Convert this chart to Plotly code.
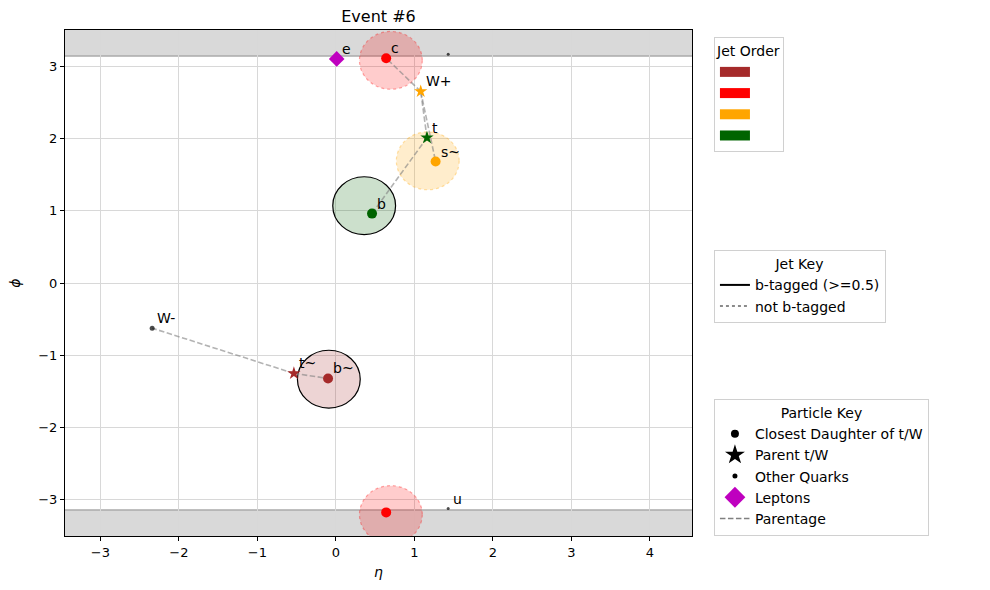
import math
import plotly.graph_objects as go

# ---------------- data ----------------
R_JET = 0.4
jet_eta = [-0.09, 0.70, 1.17, 0.36]
jet_phi = [-1.33, 3.08, 1.69, 1.07]
jet_color = ["#a52a2a", "#ff0000", "#ffa500", "#006400"]
jet_rgb = [(165, 42, 42), (255, 0, 0), (255, 165, 0), (0, 100, 0)]
jet_btag = [0.9, 0.1, 0.1, 0.8]

# closest daughters (dots)
dau_name = ["b~", "c", "s~", "b"]
dau_eta = [-0.10, 0.64, 1.27, 0.46]
dau_phi = [-1.32, 3.11, 1.68, 0.96]
dau_color = ["#a52a2a", "#ff0000", "#ffa500", "#006400"]

# parents (stars)
par_name = ["t~", "W+", "t"]
par_eta = [-0.535, 1.08, 1.16]
par_phi = [-1.25, 2.65, 2.01]
par_color = ["#a52a2a", "#ffa500", "#006400"]

# other quarks / bosons (small dots)
oth_name = ["W-", "u"]
oth_eta = [-2.34, 1.43]
oth_phi = [-0.625, -3.12]
oth_size = [5, 3]

# leptons
lep_name = ["e"]
lep_eta = [0.01]
lep_phi = [3.10]

# parentage links (parent, child)
links = [("t", "W+"), ("t", "b"), ("W+", "c"), ("W+", "s~"), ("t~", "W-"), ("t~", "b~")]

X_RANGE = [-3.45, 4.535]
Y_RANGE = [-3.5, 3.5]
PI = math.pi

FONT = "DejaVu Sans"
DASH = "5.5px,2.5px"

fig = go.Figure()

# ---------------- bands beyond +-pi ----------------
shapes = []
for y0, y1, yl in [(PI, Y_RANGE[1], PI), (Y_RANGE[0], -PI, -PI)]:
    shapes.append(dict(type="rect", xref="paper", yref="y", x0=0, x1=1, y0=y0, y1=y1,
                       fillcolor="#d9d9d9", line=dict(width=0), layer="below"))
    shapes.append(dict(type="line", xref="paper", yref="y", x0=0, x1=1, y0=yl, y1=yl,
                       line=dict(color="#aaaaaa", width=1.5), layer="below"))

# ---------------- jets ----------------
def jet_shape(eta, phi, rgb, btag):
    fill = "rgba(%d,%d,%d,0.2)" % rgb
    if btag >= 0.5:
        line = dict(color="black", width=1.2)
    else:
        line = dict(color="rgba(%d,%d,%d,0.35)" % rgb, width=1.2, dash="dot")
    return dict(type="circle", xref="x", yref="y", x0=eta - R_JET, x1=eta + R_JET,
                y0=phi - R_JET, y1=phi + R_JET, fillcolor=fill, line=line, layer="between")

for eta, phi, rgb, bt in zip(jet_eta, jet_phi, jet_rgb, jet_btag):
    shapes.append(jet_shape(eta, phi, rgb, bt))
    if phi + R_JET > PI:
        shapes.append(jet_shape(eta, phi - 2 * PI, rgb, bt))
    elif phi - R_JET < -PI:
        shapes.append(jet_shape(eta, phi + 2 * PI, rgb, bt))


def wrap_copy(phi):
    if phi > PI - R_JET:
        return phi - 2 * PI
    if phi < -PI + R_JET:
        return phi + 2 * PI
    return None

# ---------------- parentage lines ----------------
pos = {}
for n, e, p in zip(dau_name, dau_eta, dau_phi):
    pos[n] = (e, p)
for n, e, p in zip(par_name, par_eta, par_phi):
    pos[n] = (e, p)
for n, e, p in zip(oth_name, oth_eta, oth_phi):
    pos[n] = (e, p)

lx, ly = [], []
for a, b in links:
    lx += [pos[a][0], pos[b][0], None]
    ly += [pos[a][1], pos[b][1], None]
fig.add_trace(go.Scatter(x=lx, y=ly, mode="lines", showlegend=False, hoverinfo="skip",
                         line=dict(color="rgba(128,128,128,0.6)", dash=DASH, width=1.6)))

# ---------------- particles ----------------
dx, dy, dc = list(dau_eta), list(dau_phi), list(dau_color)
for e, p, c in zip(dau_eta, dau_phi, dau_color):
    w = wrap_copy(p)
    if w is not None:
        dx.append(e); dy.append(w); dc.append(c)
fig.add_trace(go.Scatter(x=dx, y=dy, mode="markers", showlegend=False,
                         marker=dict(symbol="circle", size=10, color=dc, line=dict(width=0))))

fig.add_trace(go.Scatter(x=par_eta, y=par_phi, mode="markers", showlegend=False,
                         marker=dict(symbol="star", size=10, color=par_color, line=dict(width=0))))

ox, oy, osz = list(oth_eta), list(oth_phi), list(oth_size)
for e, p, s in zip(oth_eta, oth_phi, oth_size):
    w = wrap_copy(p)
    if w is not None:
        ox.append(e); oy.append(w); osz.append(s)
fig.add_trace(go.Scatter(x=ox, y=oy, mode="markers", showlegend=False,
                         marker=dict(symbol="circle", size=osz, color="black", line=dict(width=0))))

fig.add_trace(go.Scatter(x=lep_eta, y=lep_phi, mode="markers", showlegend=False,
                         marker=dict(symbol="diamond", size=12, color="#bf00bf", line=dict(width=0))))

# labels (annotations anchored at each particle)
lab_x = dau_eta + par_eta + oth_eta + lep_eta
lab_y = dau_phi + par_phi + oth_phi + lep_phi
lab_t = dau_name + par_name + oth_name + lep_name
annotations = []
for x, y, t in zip(lab_x, lab_y, lab_t):
    annotations.append(dict(x=x, y=y, xref="x", yref="y", text=t, showarrow=False,
                            xanchor="left", yanchor="bottom", xshift=3, yshift=0,
                            font=dict(family=FONT, size=14, color="black")))

# ---------------- legends ----------------
for c in jet_color:
    fig.add_trace(go.Scatter(x=[None], y=[None], mode="lines", name=" ", legend="legend",
                             line=dict(color=c, width=10)))

fig.add_trace(go.Scatter(x=[None], y=[None], mode="lines", name="b-tagged (>=0.5)", legend="legend2",
                         line=dict(color="black", width=2)))
fig.add_trace(go.Scatter(x=[None], y=[None], mode="lines", name="not b-tagged", legend="legend2",
                         line=dict(color="#666666", width=1.5, dash="dot")))

fig.add_trace(go.Scatter(x=[None], y=[None], mode="markers", name="Closest Daughter of t/W", legend="legend3",
                         marker=dict(symbol="circle", size=8, color="black")))
fig.add_trace(go.Scatter(x=[None], y=[None], mode="markers", name="Parent t/W", legend="legend3",
                         marker=dict(symbol="star", size=15, color="black")))
fig.add_trace(go.Scatter(x=[None], y=[None], mode="markers", name="Other Quarks", legend="legend3",
                         marker=dict(symbol="circle", size=5, color="black")))
fig.add_trace(go.Scatter(x=[None], y=[None], mode="markers", name="Leptons", legend="legend3",
                         marker=dict(symbol="diamond", size=16, color="#bf00bf")))
fig.add_trace(go.Scatter(x=[None], y=[None], mode="lines", name="Parentage", legend="legend3",
                         line=dict(color="#808080", width=1.6, dash=DASH)))

leg_common = dict(xanchor="left", yanchor="top", bgcolor="white", bordercolor="#d0d0d0",
                  borderwidth=1, font=dict(family=FONT, size=14, color="black"))
title_font = dict(family=FONT, size=14, color="black")

axis_common = dict(showgrid=True, gridcolor="#d8d8d8", gridwidth=1, zeroline=False,
                   showline=True, linecolor="black", linewidth=1, mirror=True,
                   ticks="outside", ticklen=4, tickcolor="black", dtick=1,
                   tickfont=dict(family=FONT, size=13, color="black"))

fig.update_layout(
    width=990, height=590,
    margin=dict(l=65, r=298, t=30, b=54),
    paper_bgcolor="white", plot_bgcolor="white",
    font=dict(family=FONT, size=13, color="black"),
    title=dict(text="Event #6", x=0.5, xref="paper", xanchor="center", y=1 - 16 / 590, yanchor="middle",
               font=dict(family=FONT, size=16, color="black")),
    xaxis=dict(range=X_RANGE, title=dict(text="<i>η</i>", standoff=8, font=dict(size=14)), **axis_common),
    yaxis=dict(range=Y_RANGE, title=dict(text="<i>ϕ</i>", standoff=14, font=dict(size=14)), **axis_common),
    shapes=shapes,
    annotations=annotations,
    legend=dict(x=1.035, y=0.986, title=dict(text="Jet Order", side="top center", font=title_font), **leg_common),
    legend2=dict(x=1.035, y=0.565, title=dict(text="Jet Key", side="top center", font=title_font), **leg_common),
    legend3=dict(x=1.035, y=0.271, title=dict(text="Particle Key", side="top center", font=title_font), **leg_common),
)

fig.write_html("out.html")
